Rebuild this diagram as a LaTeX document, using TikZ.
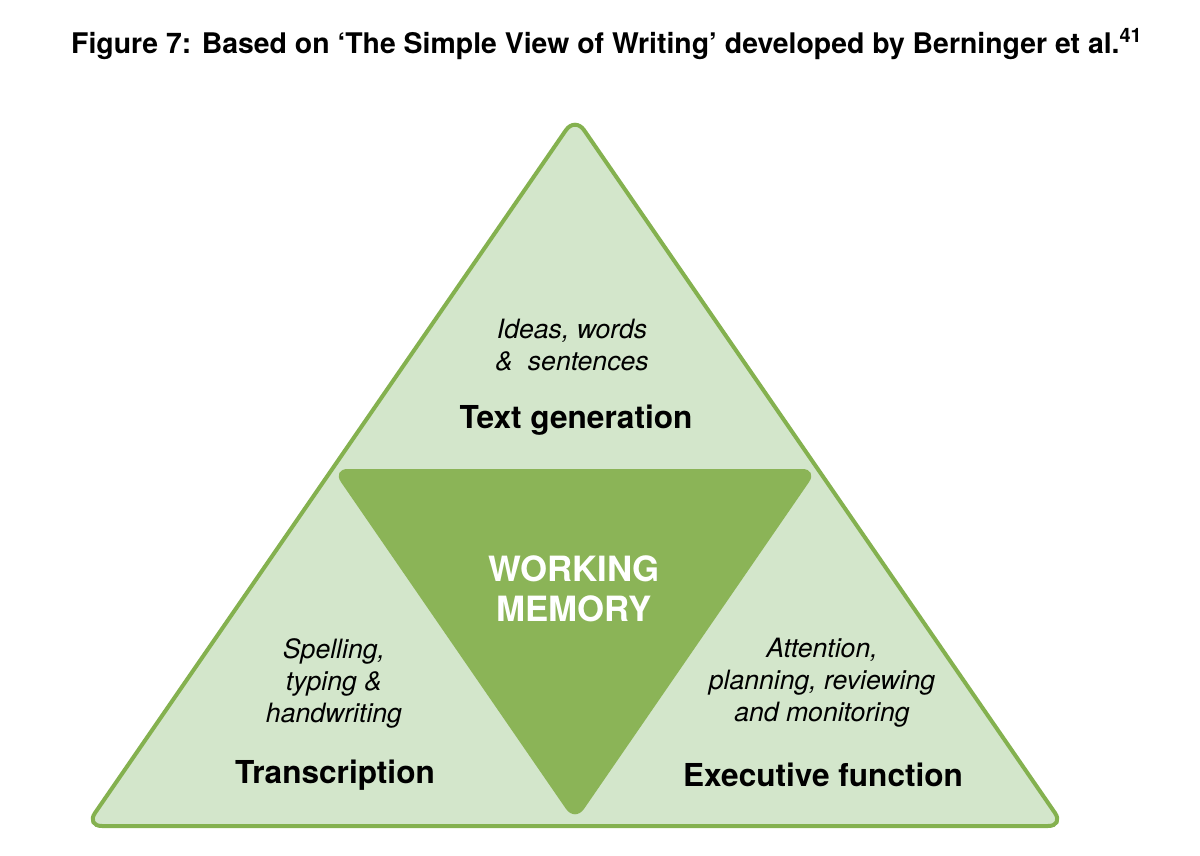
\documentclass[tikz,border=0pt]{standalone}
\usepackage{fontspec}
\setmainfont{TeX Gyre Heros}
\definecolor{lightgreen}{HTML}{D3E6CB}
\definecolor{edgegreen}{HTML}{84B14F}
\definecolor{darkgreen}{HTML}{8BB457}
\tikzset{
  outertri/.style={fill=lightgreen, draw=edgegreen, line width=2pt, rounded corners=8pt},
  innertri/.style={fill=darkgreen, rounded corners=8pt},
  itlabel/.style={align=center, font=\fontsize{13.3}{16}\selectfont\itshape, inner sep=0pt},
  bflabel/.style={align=center, font=\fontsize{15.8}{19}\selectfont\bfseries, inner sep=0pt},
  wmlabel/.style={align=center, text=white, font=\fontsize{17.4}{20}\selectfont\bfseries, inner sep=0pt},
  titlelabel/.style={font=\fontsize{14.2}{17}\selectfont\bfseries, inner sep=0pt}
}
\begin{document}
\begin{tikzpicture}[x=0.5pt, y=-0.5pt]
\useasboundingbox (0,0) rectangle (1200,856);
\draw[outertri] (575,117) coordinate (A) -- (1064,826) coordinate (B) -- (86,826) coordinate (C) -- cycle;
\fill[innertri] (332,469) coordinate (D) -- (818,469) coordinate (E) -- (575,822) coordinate (F) -- cycle;
\node[titlelabel] (title) at (607,44) {Figure 7: Based on ‘The Simple View of Writing’ developed by Berninger et al.\textsuperscript{41}};
\node[itlabel] (ideas) at (572,345) {Ideas, words\\\& \ sentences};
\node[bflabel] (textgen) at (576,420) {Text generation};
\node[wmlabel] (wm) at (574,589) {WORKING\\MEMORY};
\node[itlabel] (spell) at (334,683) {Spelling,\\typing \&\\handwriting};
\node[bflabel] (trans) at (335,775) {Transcription};
\node[itlabel] (attn) at (822,683) {Attention,\\planning, reviewing\\and monitoring};
\node[bflabel] (exec) at (823,775) {Executive function};
\end{tikzpicture}
\end{document}
